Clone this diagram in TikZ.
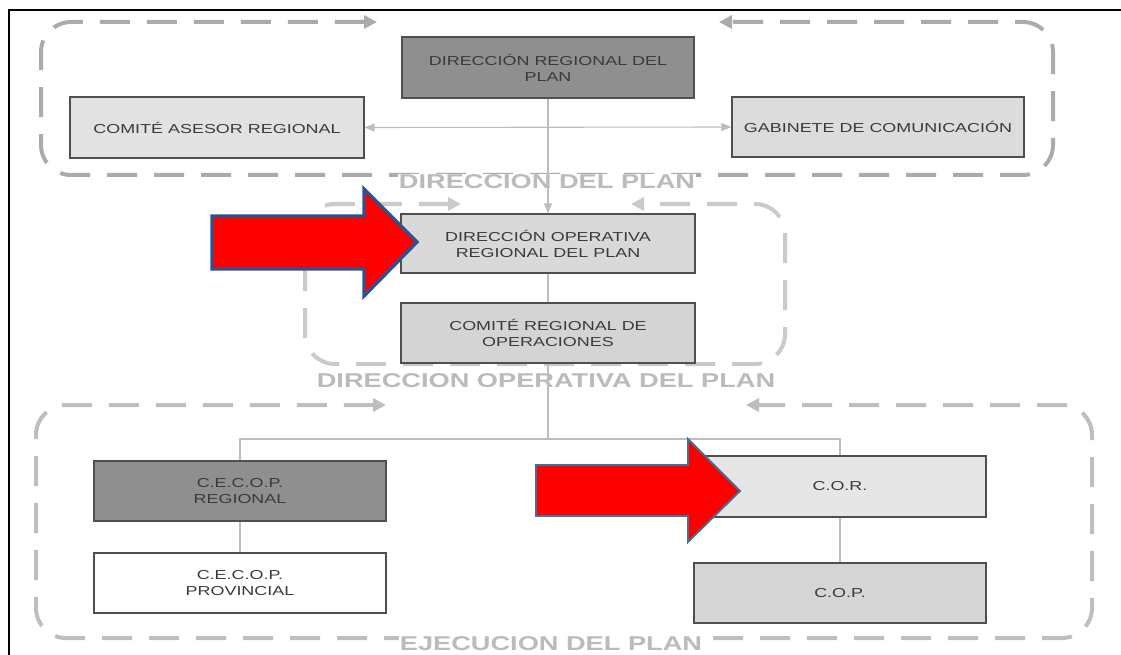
\documentclass[tikz,border=0pt]{standalone}
\usepackage{fontspec}
\setmainfont{Liberation Sans}
\newfontfamily\boxf[FakeStretch=1.38]{Liberation Sans}
\newfontfamily\grpf[FakeStretch=1.36]{Liberation Sans}
\usetikzlibrary{arrows.meta}
\definecolor{dashcol}{HTML}{ABABAB}
\definecolor{dashmid}{HTML}{CACACA}
\definecolor{dashlow}{HTML}{BEBEBE}
\definecolor{conncol}{HTML}{BDBDBD}
\definecolor{bordercol}{HTML}{4F4F4F}
\definecolor{textcol}{HTML}{3A3A3A}
\definecolor{darkbox}{HTML}{8F8F8F}
\definecolor{lblcol}{HTML}{BBBBBB}
\definecolor{redarrow}{HTML}{FF0000}
\definecolor{arrowedge}{HTML}{2F528F}
\definecolor{arrowedgeb}{HTML}{41719C}
\tikzset{
  orgbox/.style={draw=bordercol, line width=1.1pt, minimum width=292pt, minimum height=60pt,
    inner sep=0pt, align=center, text=textcol, font=\boxf\fontsize{13}{16}\selectfont},
  grp/.style={draw=dashcol, line width=4pt, dash pattern=on 30pt off 17pt, rounded corners=30pt,
    {Triangle[length=13pt,width=13pt]}-{Triangle[length=13pt,width=13pt]}},
  grplbl/.style={text=lblcol, fill=white, inner sep=1pt, font=\grpf\bfseries\fontsize{20}{20}\selectfont},
  conn/.style={draw=conncol, line width=1.1pt},
  connarr/.style={conn, -{Triangle[length=10pt,width=8pt]}},
  bigarrow/.style={fill=redarrow, draw=arrowedge, line width=3.4pt, line join=miter}
}
\begin{document}
\begin{tikzpicture}[x=1pt,y=-1pt]
\useasboundingbox (0,0) rectangle (1121,655);
\clip (0,0) rectangle (1121,655);
% frame
\draw[black, line width=1.5pt] (9,655) -- (9,10) -- (1121,10);
% groups
\draw[grp] (377,22) -- (41,22) -- (41,175) -- (1053,175) -- (1053,22) -- (719,22);
\draw[grp, draw=dashmid] (461,204) -- (305,204) -- (305,364) -- (785,364) -- (785,204) -- (631,204);
\draw[grp, draw=dashlow] (386,405) -- (36,405) -- (36,638) -- (1092,638) -- (1092,405) -- (746,405);
% group labels
\node[grplbl] (lbl1) at (547,182) {DIRECCION DEL PLAN};
\node[grplbl] (lbl2) at (546,381) {DIRECCION OPERATIVA DEL PLAN};
\node[grplbl] (lbl3) at (551,644) {EJECUCION DEL PLAN};
% boxes
\node[orgbox, fill=darkbox, minimum width=292pt, minimum height=61pt] (dreg) at (548,67.5) {DIRECCIÓN REGIONAL DEL\\PLAN};
\node[orgbox, fill={rgb,255:red,226;green,226;blue,226}, minimum width=294pt, minimum height=61pt] (casr) at (217,127.5) {COMITÉ ASESOR REGIONAL};
\node[orgbox, fill={rgb,255:red,220;green,220;blue,220}, minimum width=292pt, minimum height=60pt] (gab) at (878,127) {GABINETE DE COMUNICACIÓN};
\node[orgbox, fill={rgb,255:red,217;green,217;blue,217}, minimum width=294pt, minimum height=59pt] (dop) at (548,243.5) {DIRECCIÓN OPERATIVA\\REGIONAL DEL PLAN};
\node[orgbox, fill={rgb,255:red,212;green,212;blue,212}, minimum width=294pt, minimum height=60pt] (creg) at (548,333) {COMITÉ REGIONAL DE\\OPERACIONES};
\node[orgbox, fill=darkbox] (cecr) at (240,491) {C.E.C.O.P.\\REGIONAL};
\node[orgbox, fill=white] (cecp) at (240,583) {C.E.C.O.P.\\PROVINCIAL};
\node[orgbox, fill={rgb,255:red,230;green,230;blue,230}, minimum height=61pt] (cor) at (840,486.5) {C.O.R.};
\node[orgbox, fill={rgb,255:red,214;green,214;blue,214}] (cop) at (840,593) {C.O.P.};
% connectors
\coordinate (bus) at (548,439);
\draw[connarr] (dreg.south) -- (dop.north);
\draw[conn, {Triangle[length=10pt,width=8pt]}-{Triangle[length=10pt,width=8pt]}] (casr.east) -- (gab.west);
\draw[conn] (dop.south) -- (creg.north);
\draw[conn] (creg.south) -- (bus);
\draw[conn] (cecr.north) |- (bus) -| (cor.north);
\draw[conn] (cecr.south) -- (cecp.north);
\draw[conn] (cor.south) -- (cop.north);
% red highlight arrows
\draw[bigarrow] (212,216) -- (364,216) -- (364,189) -- (417,242) -- (364,296) -- (364,269) -- (212,269) -- cycle;
\draw[bigarrow, draw=arrowedgeb, line width=1.8pt] (536,465) -- (688,465) -- (688,439) -- (740,491) -- (688,542) -- (688,516) -- (536,516) -- cycle;
\end{tikzpicture}
\end{document}
